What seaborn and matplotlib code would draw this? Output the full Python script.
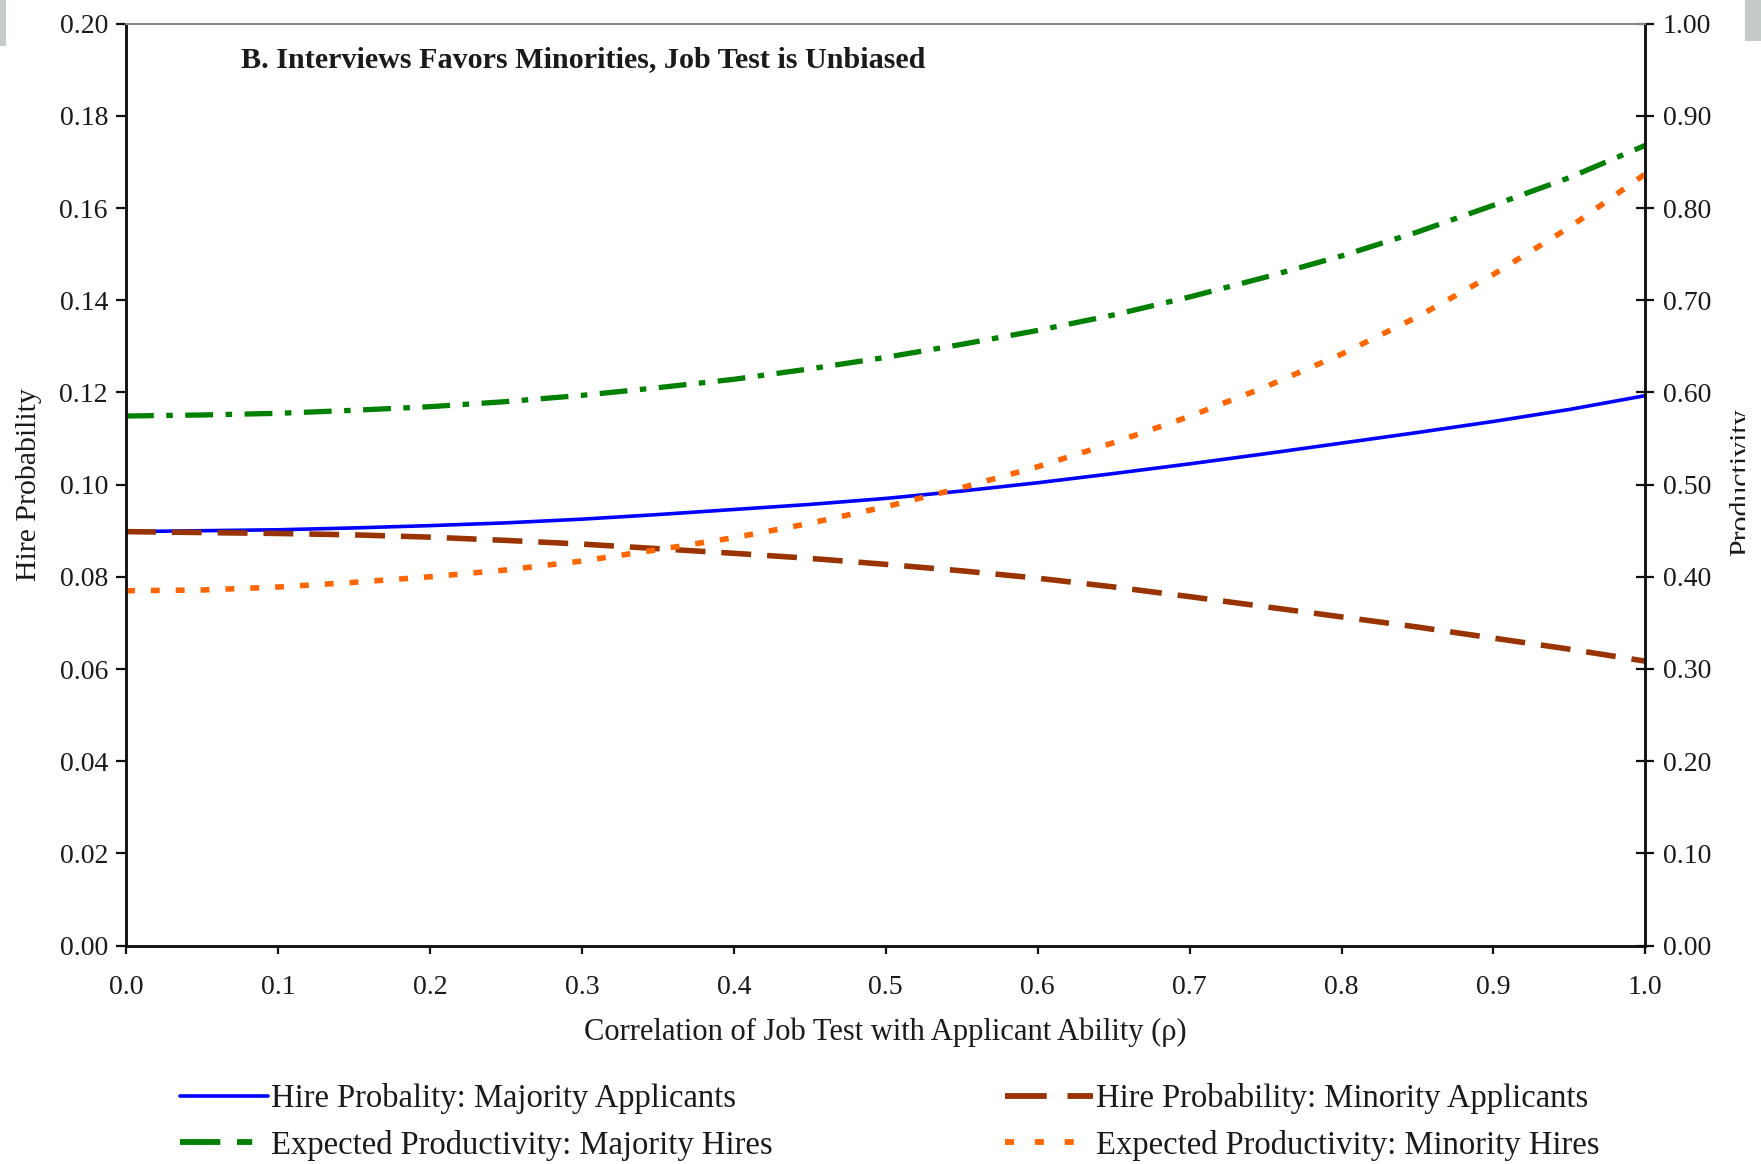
import numpy as np
import pandas as pd
import matplotlib
matplotlib.use("Agg")
import matplotlib.pyplot as plt
from matplotlib.lines import Line2D
from matplotlib.patches import Rectangle
from matplotlib.ticker import FormatStrFormatter, MultipleLocator
import seaborn as sns

# Correlation of the job test with applicant ability
rho = [0.00, 0.05, 0.10, 0.15, 0.20, 0.25, 0.30, 0.35, 0.40, 0.45, 0.50,
       0.55, 0.60, 0.65, 0.70, 0.75, 0.80, 0.85, 0.90, 0.95, 1.00]

# Hire probabilities (left axis)
hire_majority = [0.0898, 0.0900, 0.0902, 0.0906, 0.0911, 0.0917, 0.0925, 0.0935,
                 0.0946, 0.0957, 0.0970, 0.0986, 0.1004, 0.1024, 0.1045, 0.1067,
                 0.1090, 0.1113, 0.1137, 0.1163, 0.1193]
hire_minority = [0.0898, 0.0896, 0.0894, 0.0891, 0.0886, 0.0879, 0.0871, 0.0861,
                 0.0851, 0.0840, 0.0827, 0.0813, 0.0797, 0.0778, 0.0757, 0.0735,
                 0.0713, 0.0691, 0.0667, 0.0643, 0.0617]

# Expected productivity of hires (right axis)
prod_majority = [0.5744, 0.5755, 0.5773, 0.5806, 0.5845, 0.5900, 0.5968, 0.6051,
                 0.6142, 0.6255, 0.6380, 0.6521, 0.6672, 0.6840, 0.7035, 0.7250,
                 0.7480, 0.7740, 0.8030, 0.8330, 0.8680]
prod_minority = [0.3849, 0.3857, 0.3889, 0.3940, 0.4000, 0.4074, 0.4171, 0.4294,
                 0.4424, 0.4580, 0.4760, 0.4966, 0.5194, 0.5455, 0.5740, 0.6060,
                 0.6415, 0.6820, 0.7280, 0.7790, 0.8370]

labels = ["Hire Probality: Majority Applicants",
          "Hire Probability: Minority Applicants",
          "Expected Productivity: Majority Hires",
          "Expected Productivity: Minority Hires"]

title = "B. Interviews Favors Minorities, Job Test is Unbiased"
xlabel = "Correlation of Job Test with Applicant Ability (ρ)"
ylabel_left = "Hire Probability"
ylabel_right = "Productivity"

sns.set_style("ticks")
plt.rcParams["font.family"] = ["Liberation Serif", "DejaVu Serif"]
plt.rcParams["lines.scale_dashes"] = False

df = pd.DataFrame({"rho": rho, "hmaj": hire_majority, "hmin": hire_minority,
                   "pmaj": prod_majority, "pmin": prod_minority})

W, H = 1761, 1164
fig = plt.figure(figsize=(W / 100, H / 100), dpi=100)
fig.patch.set_facecolor("white")
ax = fig.add_axes([126 / W, 1 - 945.6 / H, (1645.4 - 126) / W, (945.6 - 23.6) / H])
ax2 = ax.twinx()

text_col = "#1a1a1a"
c_blue, c_brown, c_green, c_orange = "#0000FF", "#993300", "#008000", "#FF6600"

sns.lineplot(data=df, x="rho", y="hmaj", ax=ax, color=c_blue, lw=2.6,
             label=labels[0], legend=False)
sns.lineplot(data=df, x="rho", y="hmin", ax=ax, color=c_brown, lw=4.0,
             linestyle=(0, (21.5, 11.5)), label=labels[1], legend=False)
sns.lineplot(data=df, x="rho", y="pmaj", ax=ax2, color=c_green, lw=3.8,
             linestyle=(0, (20, 9, 4.7, 9)), label=labels[2], legend=False)
sns.lineplot(data=df, x="rho", y="pmin", ax=ax2, color=c_orange, lw=4.0,
             linestyle=(0, (6.4, 11.5)), label=labels[3], legend=False)

ax.set_xlim(0, 1)
ax.set_ylim(0, 0.20)
ax2.set_ylim(0, 1.0)
ax.xaxis.set_major_locator(MultipleLocator(0.1))
ax.yaxis.set_major_locator(MultipleLocator(0.02))
ax2.yaxis.set_major_locator(MultipleLocator(0.1))
ax.xaxis.set_major_formatter(FormatStrFormatter("%.1f"))
ax.yaxis.set_major_formatter(FormatStrFormatter("%.2f"))
ax2.yaxis.set_major_formatter(FormatStrFormatter("%.2f"))

ax.set_xlabel("")
ax.set_ylabel("")
ax2.set_ylabel("")

for a in (ax, ax2):
    for side in ("left", "right", "bottom"):
        a.spines[side].set_color("#111111")
        a.spines[side].set_linewidth(1.8)
    a.spines["top"].set_color("#8a8a8a")
    a.spines["top"].set_linewidth(1.4)

ax.tick_params(axis="x", direction="out", length=6, width=1.6, pad=15,
               labelsize=20, labelcolor=text_col, color="#111111")
ax.tick_params(axis="y", direction="out", length=7, width=1.6, pad=6,
               labelsize=20, labelcolor=text_col, color="#111111")
ax2.tick_params(axis="y", direction="inout", length=13, width=1.6, pad=6,
                labelsize=20, labelcolor=text_col, color="#111111")

ax.text(0.0757, 0.961, title, transform=ax.transAxes, fontsize=21.7,
        fontweight="bold", ha="left", va="center", color=text_col)

fig.text(0.5 * (126 + 1645.4) / W, 1 - 1032 / H, xlabel, ha="center",
         va="center", fontsize=22, color=text_col)
fig.text(29 / W, 1 - 484 / H, ylabel_left, rotation=90, ha="center", va="center",
         fontsize=21.5, color=text_col)
fig.text(1742 / W, 1 - 482 / H, ylabel_right, rotation=90, ha="center",
         va="center", fontsize=21.5, color=text_col)

# legend keys with the compact dash patterns used in the key boxes
h_hmaj = Line2D([], [], color=c_blue, lw=2.6)
h_hmin = Line2D([], [], color=c_brown, lw=4.2, linestyle=(0, (30, 15, 30, 15)))
h_pmaj = Line2D([], [], color=c_green, lw=4.2, linestyle=(0, (29, 12, 11, 40)))
h_pmin = Line2D([], [], color=c_orange, lw=4.2, linestyle=(0, (6.5, 15)))

leg_kw = dict(frameon=False, fontsize=23.5, handlelength=2.7, handletextpad=0.1,
              labelspacing=0.48, borderpad=0, borderaxespad=0, loc="upper left",
              labelcolor=text_col)
fig.legend([h_hmaj, h_pmaj], [labels[0], labels[2]],
           bbox_to_anchor=(180 / W, 1 - 1083 / H), **leg_kw)
fig.legend([h_hmin, h_pmin], [labels[1], labels[3]],
           bbox_to_anchor=(1005 / W, 1 - 1083 / H), **leg_kw)

# cut strip at the right edge and the two grey corner tabs
fig.add_artist(Rectangle((1745 / W, 0), 16 / W, 1, transform=fig.transFigure,
                         facecolor="white", edgecolor="none", zorder=20))
fig.add_artist(Rectangle((1745 / W, 1 - 41 / H), 16 / W, 41 / H,
                         transform=fig.transFigure, facecolor="#c4ccc8",
                         edgecolor="none", zorder=21))
fig.add_artist(Rectangle((0, 1 - 46 / H), 6 / W, 46 / H,
                         transform=fig.transFigure, facecolor="#c4ccc8",
                         edgecolor="none", zorder=21))

fig.savefig("out.png", dpi=100, facecolor="white")
